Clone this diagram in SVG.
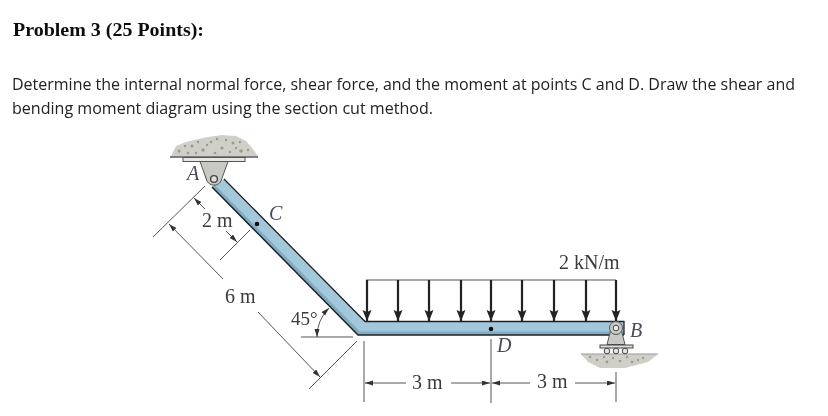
<svg xmlns="http://www.w3.org/2000/svg" width="828" height="416" viewBox="0 0 828 416">
<style>
.title{font:bold 18px "Liberation Serif",serif;fill:#111}
.body{font:16px "Open Sans","Noto Sans",sans-serif;fill:#222}
.lbl{font:20px "Liberation Serif",serif;fill:#3a3a3a}
.it{font:italic 20px "Liberation Serif",serif;fill:#4a4a5a}
.dim{stroke:#555;stroke-width:1;fill:none}
.load{stroke:#222;stroke-width:2.2;fill:none;marker-end:url(#load)}
.arr{stroke:#555;stroke-width:1;fill:none;marker-end:url(#tick)}
.rock{fill:#cfcfc8}
.sp{fill:#9a9a94}
.sup{fill:#c9c9c3;stroke:#555;stroke-width:1}
</style>
<defs>
<marker id="load" markerUnits="userSpaceOnUse" markerWidth="12" markerHeight="10" refX="11" refY="4.500" orient="auto"><path d="M0 0L11 4.500L0 9L2 4.500Z" fill="#222"/></marker>
<marker id="tick" markerUnits="userSpaceOnUse" markerWidth="9" markerHeight="6" refX="8" refY="2.500" orient="auto-start-reverse"><path d="M0 0L8 2.500L0 5Z" fill="#333"/></marker>
<filter id="soft" x="-5%" y="-5%" width="110%" height="110%"><feGaussianBlur stdDeviation="0.4"/></filter>
</defs>
<rect width="828" height="416" fill="#fff"/>
<g id="statement" filter="url(#soft)">
<text class="title" x="13" y="36" textLength="191" lengthAdjust="spacingAndGlyphs">Problem 3 (25 Points):</text>
<text class="body" x="12" y="90" textLength="783" lengthAdjust="spacingAndGlyphs">Determine the internal normal force, shear force, and the moment at points C and D. Draw the shear and</text>
<text class="body" x="12" y="114" textLength="421" lengthAdjust="spacingAndGlyphs">bending moment diagram using the section cut method.</text>
</g>
<g filter="url(#soft)">
<g id="support-A">
<path class="rock" d="M171 156L176 146L186 142L198 139L208 137L222 135L236 136L246 141L252 148L258 156Z"/>
<g class="sp"><circle cx="179" cy="151" r="1.500"/><circle cx="185" cy="146" r="1.200"/><circle cx="192" cy="146" r="1.500"/><circle cx="198" cy="142" r="1.200"/><circle cx="203" cy="150" r="1.800"/><circle cx="211" cy="142" r="1.300"/><circle cx="217" cy="139" r="1.200"/><circle cx="222" cy="148" r="1.600"/><circle cx="233" cy="143" r="1.500"/><circle cx="241" cy="151" r="1.800"/><circle cx="248" cy="150" r="1.200"/><circle cx="196" cy="153" r="1.200"/><circle cx="188" cy="153" r="1.300"/><circle cx="215" cy="153" r="1.300"/><circle cx="230" cy="152" r="1.200"/><circle cx="207" cy="145" r="1.200"/><circle cx="226" cy="140" r="1.200"/><circle cx="240" cy="142" r="1.200"/><circle cx="236" cy="148" r="1.200"/></g>
<path d="M170 157H258" stroke="#555" stroke-width="1.500"/>
<rect x="183" y="157.500" width="62" height="4" fill="#e8e8e4" stroke="#555"/>
</g>
<g id="beam">
<path d="M224 179L365 321.500H624V335H358L212 187Z" fill="#a3c8dc"/>
<path d="M212 187L358 335H624V331.500H360L214.500 184.500Z" fill="#7fabc4"/>
<path d="M224 179L365 321.500H624V335" fill="none" stroke="#222" stroke-width="1.300"/>
<path d="M212 187L358 335H624" fill="none" stroke="#222" stroke-width="1.500"/>
</g>
<g id="pin-A">
<path d="M204 176L212 187L208 180Z" fill="#4b6f86"/>
<path class="sup" d="M200 161.500H228L221 181A8 8 0 0 1 207 181Z"/>
<circle cx="214" cy="179" r="3.400" fill="#ddd" stroke="#444" stroke-width="1.400"/>
</g>
<g id="support-B">
<path d="M581 354H658L648 362L625 368H600L588 362Z" class="rock"/>
<g class="sp"><circle cx="590" cy="357" r="1.200"/><circle cx="597" cy="360" r="1.200"/><circle cx="607" cy="362" r="1.400"/><circle cx="613" cy="358" r="1.200"/><circle cx="620" cy="361" r="1.300"/><circle cx="627" cy="357" r="1.200"/><circle cx="632" cy="362" r="1.300"/><circle cx="643" cy="358" r="1.200"/><circle cx="604" cy="357" r="1.200"/><circle cx="638" cy="360" r="1.200"/></g>
<path d="M581 354H658" stroke="#999" stroke-width="1"/>
<path class="sup" d="M607 344.500L611 329H621L625 344.500Z"/>
<circle cx="616" cy="328" r="6.500" fill="#c9c9c3" stroke="#555"/>
<circle cx="616" cy="328" r="2.800" fill="#eee" stroke="#444"/>
<rect x="600" y="345" width="33" height="3" fill="#ddd" stroke="#444"/>
<g fill="#e4e4e0" stroke="#444"><circle cx="607" cy="351" r="2.800"/><circle cx="616" cy="351" r="2.800"/><circle cx="625" cy="351" r="2.800"/></g>
</g>
<g id="point-C"><circle cx="257" cy="224" r="2.300" fill="#111"/></g>
<g id="point-D"><circle cx="491" cy="329" r="2.300" fill="#111"/></g>
<g id="connectors">
<path d="M366 280H616" stroke="#555" stroke-width="1"/>
<path class="load" d="M367 280V321"/><path class="load" d="M398 280V321"/><path class="load" d="M429 280V321"/><path class="load" d="M461 280V321"/><path class="load" d="M491 280V321"/><path class="load" d="M522 280V321"/><path class="load" d="M554 280V321"/><path class="load" d="M586 280V321"/><path class="load" d="M616 280V321"/>
<path class="dim" d="M205 186L153 237M250 230L220 260M357 341L309 389"/>
<path class="arr" d="M205 209L194 198"/>
<path class="arr" d="M226 231L237 242"/>
<path class="arr" d="M223 279L169 224"/>
<path class="arr" d="M258 312L320 377"/>
<path class="dim" d="M301 337H353M364 341V402M491 339V403M616 372V402"/>
<path class="arr" d="M329 308Q317 320 317 337" marker-start="url(#tick)"/>
<path class="arr" d="M406 383H365"/>
<path class="arr" d="M451 383H490"/>
<path class="arr" d="M530 383H492"/>
<path class="arr" d="M575 383H615"/>
</g>
<g id="labels">
<text class="it" x="187" y="180">A</text>
<text class="it" x="269" y="220">C</text>
<text class="it" x="497" y="352">D</text>
<text class="it" x="630" y="337">B</text>
<text class="lbl" x="202" y="227">2 m</text>
<text class="lbl" x="225" y="303">6 m</text>
<text class="lbl" x="291" y="325" style="font-size:19px">45°</text>
<text class="lbl" x="412" y="389">3 m</text>
<text class="lbl" x="537" y="388">3 m</text>
<text class="lbl" x="559" y="269">2 kN/m</text>
</g>
</g>
</svg>
